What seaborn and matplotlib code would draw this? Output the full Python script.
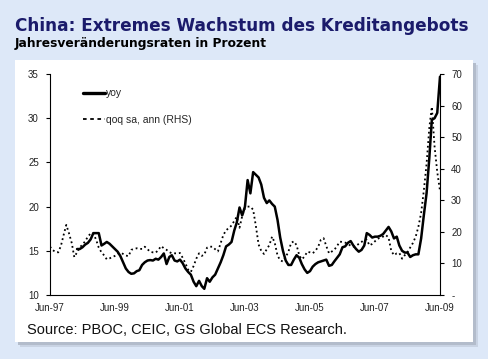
import numpy as np
import pandas as pd
import seaborn as sns
import matplotlib.pyplot as plt
import matplotlib.dates as mdates
from matplotlib.patches import Rectangle
from matplotlib.lines import Line2D

# monthly axis, Jun-97 .. Jun-09
months = pd.date_range('1997-06-01', '2009-06-01', freq='MS')

# yoy credit growth (LHS, %), starts Mar-98
yoy = [15.2, 15.2, 15.4, 15.7, 15.9, 16.3, 17.0, 17.0, 17.0, 15.6,
       15.8, 16.0, 15.8, 15.5, 15.2, 14.9, 14.4, 13.7, 13.0, 12.6,
       12.4, 12.45, 12.7, 12.8, 13.4, 13.7, 13.9, 13.95, 13.9, 14.1,
       14.0, 14.3, 14.7, 13.5, 14.3, 14.5, 13.9, 13.8, 14.0, 13.6,
       13.0, 12.6, 12.3, 11.5, 11.0, 11.6, 11.0, 10.7, 11.9, 11.5,
       12.0, 12.3, 13.0, 13.7, 14.5, 15.5, 15.7, 16.0, 17.3, 18.2,
       19.9, 19.0, 20.0, 23.0, 21.5, 23.9, 23.6, 23.3, 22.5, 21.0,
       20.4, 20.7, 20.3, 20.0, 18.5, 16.5, 15.0, 13.9, 13.4, 13.4,
       14.0, 14.5, 14.2, 13.5, 12.9, 12.5, 12.7, 13.2, 13.5, 13.7,
       13.8, 13.9, 14.0, 13.3, 13.4, 13.8, 14.2, 14.6, 15.4, 15.5,
       15.9, 16.1, 15.6, 15.2, 14.9, 15.1, 15.6, 17.0, 16.8, 16.5,
       16.6, 16.6, 16.7, 16.9, 17.3, 17.7, 17.2, 16.4, 16.6, 15.6,
       15.0, 14.8, 14.8, 14.3, 14.5, 14.6, 14.6, 16.4, 19.0, 21.5,
       25.5, 29.8, 30.0, 30.6, 34.7]

# qoq sa, annualised (RHS, %), Jun-97 .. Jun-09
qoq = [15.3, 14.2, 13.7, 13.5, 15.5, 19.0, 22.2, 19.5, 16.4, 12.0,
       13.5, 15.0, 16.0, 17.0, 18.5, 19.5, 19.5, 17.5, 15.0, 13.5,
       12.5, 11.3, 11.6, 12.0, 12.4, 13.0, 13.4, 13.0, 12.5, 12.3,
       14.3, 14.6, 14.8, 14.6, 14.6, 15.3, 14.5, 13.7, 13.5, 13.4,
       14.3, 15.5, 14.8, 14.3, 13.6, 13.2, 13.2, 13.2, 13.3, 11.8,
       10.0, 8.0, 7.3, 9.2, 11.5, 13.2, 12.4, 12.8, 15.0, 15.3,
       15.3, 14.5, 13.8, 16.5, 19.0, 20.5, 21.2, 22.0, 23.5, 24.8,
       21.3, 25.0, 27.5, 28.0, 28.0, 27.0, 22.0, 16.0, 14.0, 13.0,
       14.5, 15.8, 18.5, 16.5, 12.5, 11.0, 10.6, 12.0, 13.7, 16.5,
       17.0, 15.8, 12.5, 11.3, 12.2, 13.7, 13.5, 13.2, 14.0, 15.3,
       17.5, 18.0, 15.5, 13.2, 13.8, 14.3, 15.5, 16.9, 16.8, 16.6,
       16.2, 15.6, 15.3, 15.6, 16.2, 16.8, 17.5, 17.5, 15.7, 16.2,
       17.0, 17.8, 18.2, 18.5, 19.0, 18.2, 14.0, 12.6, 13.2, 13.3,
       11.5, 12.6, 13.6, 15.0, 16.5, 18.5, 21.6, 26.0, 33.0, 41.5,
       53.0, 59.6, 47.0, 39.0, 33.0]

left_ticks = [10, 15, 20, 25, 30, 35]
right_ticks = [0, 10, 20, 30, 40, 50, 60, 70]
right_labels = ['-', '10', '20', '30', '40', '50', '60', '70']
x_ticks = pd.date_range('1997-06-01', '2009-06-01', freq='24MS')
legend_labels = ['yoy', 'qoq sa, ann (RHS)']

df_yoy = pd.DataFrame({'date': months[len(months) - len(yoy):], 'yoy': yoy})
df_qoq = pd.DataFrame({'date': months, 'qoq': qoq})

sns.set_style('white')
plt.rcParams['font.family'] = ['Liberation Sans', 'DejaVu Sans']

fig = plt.figure(figsize=(4.89, 3.59), dpi=100, facecolor='#dde8f8')

# white card with soft shadow
W, H = 489.0, 359.0
for off, col in [(5, '#c9d3e3'), (3, '#b3bccb')]:
    fig.add_artist(Rectangle((15 / W + off / W, (H - 342 - off) / H), 458 / W, 282 / H,
                             transform=fig.transFigure, facecolor=col, edgecolor='none', zorder=0))
fig.add_artist(Rectangle((15 / W, (H - 342) / H), 458 / W, 282 / H,
                         transform=fig.transFigure, facecolor='white', edgecolor='none', zorder=0))

ax = fig.add_axes([50 / W, (H - 295) / H, 390 / W, 221 / H])
ax2 = ax.twinx()
ax.patch.set_alpha(0)

sns.lineplot(data=df_yoy, x='date', y='yoy', ax=ax, color='black', lw=1.8)
sns.lineplot(data=df_qoq, x='date', y='qoq', ax=ax2, color='black', lw=1.3,
             linestyle=(0, (1, 1.6)))

ax.set_xlim(months[0], months[-1])
ax.set_ylim(10, 35)
ax2.set_ylim(0, 70)
ax.set_yticks(left_ticks)
ax2.set_yticks(right_ticks)
ax2.set_yticklabels(right_labels)
ax.set_xticks(x_ticks)
ax.xaxis.set_major_formatter(mdates.DateFormatter('%b-%y'))
ax.set_xlabel('')
ax.set_ylabel('')
ax2.set_ylabel('')

for a in (ax, ax2):
    a.spines['top'].set_visible(False)
    for s in a.spines.values():
        s.set_linewidth(0.8)
        s.set_color('black')
    a.tick_params(labelsize=7, length=3, width=0.8, direction='out', pad=5,
                  colors='black', labelcolor='#222222')
ax.tick_params(axis='x', pad=3)
ax2.spines['left'].set_visible(False)
ax2.spines['bottom'].set_visible(False)
ax.spines['right'].set_visible(False)

handles = [Line2D([], [], color='black', lw=2.4),
           Line2D([], [], color='black', lw=1.3, linestyle=(0, (2, 2)))]
ax2.legend(handles, legend_labels, loc='upper left', bbox_to_anchor=(0.085, 0.935),
           frameon=False, fontsize=7.5, labelspacing=1.6, handlelength=2.1,
           handletextpad=0.1, borderaxespad=0, borderpad=0)

fig.text(15 / W, 1 - 31.3 / H, 'China: Extremes Wachstum des Kreditangebots',
         fontsize=12.2, fontweight='bold', color='#1b1b6b', va='baseline',
         family=['DejaVu Sans'])
fig.text(15 / W, 1 - 46.5 / H, 'Jahresveränderungsraten in Prozent',
         fontsize=8.8, fontweight='bold', color='black', va='baseline',
         family=['DejaVu Sans'])
fig.text(27 / W, 1 - 334 / H, 'Source: PBOC, CEIC, GS Global ECS Research.',
         fontsize=10.5, color='#111111', va='baseline')

fig.savefig('out.png', dpi=100, facecolor=fig.get_facecolor())
